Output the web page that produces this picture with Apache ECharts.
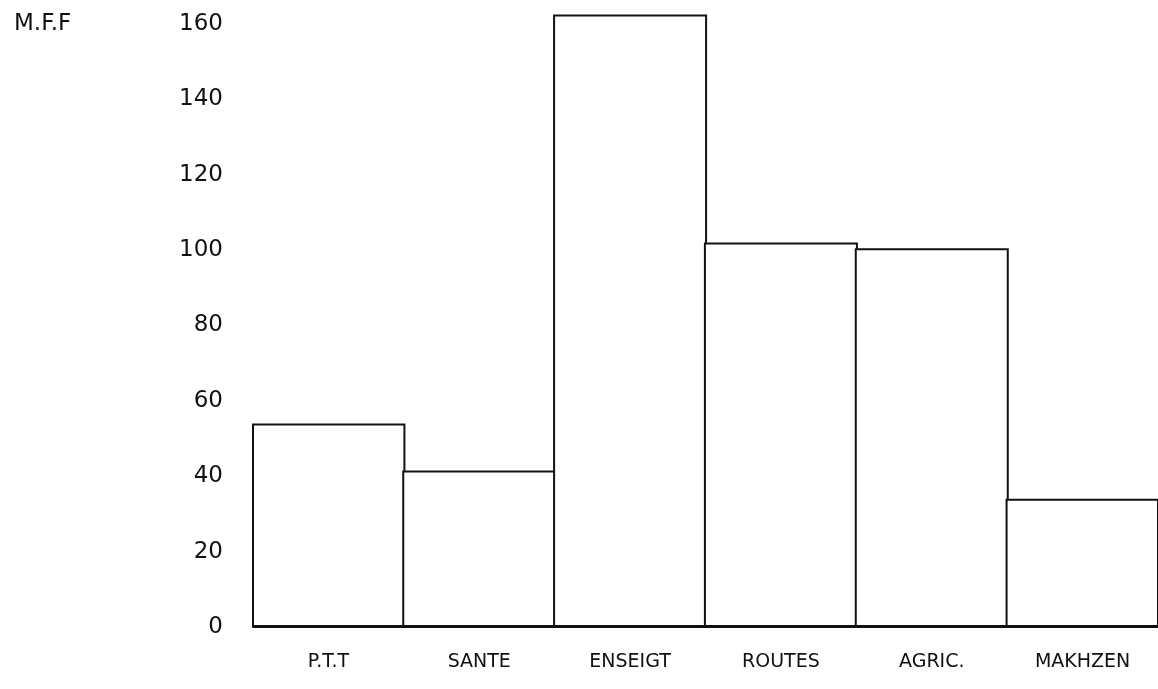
<!DOCTYPE html>
<html>
<head>
<meta charset="utf-8">
<script src="https://cdn.jsdelivr.net/npm/echarts@6/dist/echarts.min.js"></script>
<style>
html,body{margin:0;padding:0;background:#fff;}
#chart{width:1158px;height:689px;}
</style>
</head>
<body>
<div id="chart"></div>
<script>
const categories = ['P.T.T', 'SANTE', 'ENSEIGT', 'ROUTES', 'AGRIC.', 'MAKHZEN'];
const values = [54, 41.5, 162.5, 102, 100.5, 34];
const unitLabel = 'M.F.F';

const chart = echarts.init(document.getElementById('chart'));
chart.setOption({
  animation: false,
  backgroundColor: '#fff',
  title: {
    text: unitLabel,
    left: 9,
    top: 8,
    textStyle: { fontFamily: 'DejaVu Sans', fontSize: 23, fontWeight: 'normal', color: '#111' }
  },
  grid: { left: 253, right: -7, top: 5, bottom: 62 },
  xAxis: {
    type: 'category',
    data: categories,
    axisLine: { show: true, lineStyle: { color: '#111', width: 2 } },
    axisTick: { show: false },
    splitLine: { show: false },
    axisLabel: {
      margin: 26,
      fontFamily: 'DejaVu Sans',
      fontSize: 19,
      color: '#111'
    }
  },
  yAxis: {
    type: 'value',
    min: 0,
    max: 165,
    interval: 20,
    axisLine: { show: false },
    axisTick: { show: false },
    splitLine: { show: false },
    axisLabel: {
      margin: 30,
      showMaxLabel: false,
      fontFamily: 'DejaVu Sans',
      fontSize: 23,
      color: '#111',
      formatter: function (v) { return (v % 20 === 0) ? String(v) : ''; }
    }
  },
  series: [{
    type: 'bar',
    data: values,
    barWidth: 154,
    barCategoryGap: '0%',
    itemStyle: { color: '#fff', borderColor: '#111', borderWidth: 2 },
    emphasis: { disabled: true }
  }]
});
</script>
</body>
</html>
